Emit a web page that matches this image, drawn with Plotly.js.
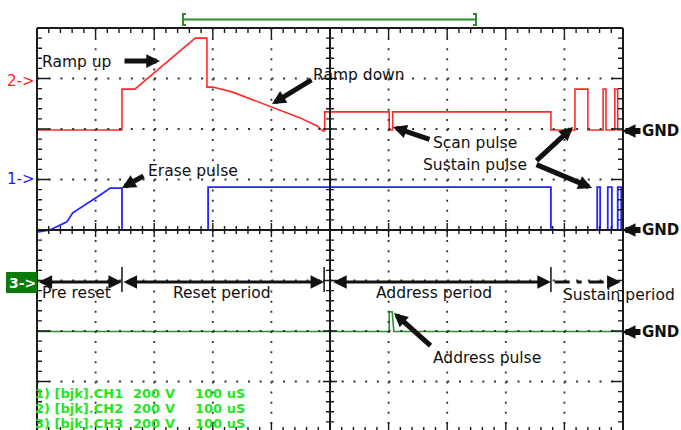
<!DOCTYPE html>
<html><head><meta charset="utf-8">
<script src="https://cdn.plot.ly/plotly-3.0.1.min.js"></script>
<style>html,body{margin:0;padding:0;background:#fff;}#chart{width:681px;height:430px;}</style>
</head><body><div id="chart"></div>
<script>
// ---- Data (time in uS, 100 uS/div; level in screen divisions, 200 V/div) ----
const ch2Time  = [0,145,145,167,270,290,290,300,334,401,449,478,488,491,491,601,601,607,607,877,877,918,918,940,940,966,966,971,971,986,986,991,991,1000];
const ch2Level = [5.98,5.98,6.79,6.79,7.80,7.80,6.83,6.83,6.73,6.44,6.22,6.06,5.96,5.96,6.34,6.34,5.98,5.98,6.34,6.34,5.98,5.98,6.79,6.79,5.98,5.98,6.79,6.79,5.98,5.98,6.79,6.79,5.98,5.98];
const ch1Time  = [0,22,51,61,102,125,145,145,292,292,877,877,956,956,961,961,974,974,981,981,991,991,997,997,1000];
const ch1Level = [3.96,4.0,4.16,4.34,4.65,4.83,4.83,4.0,4.0,4.85,4.85,4.0,4.0,4.85,4.85,4.0,4.0,4.85,4.85,4.0,4.0,4.85,4.85,4.0,4.0];
const ch3Time  = [0,601,601,606,609,1000];
const ch3Level = [1.99,1.99,2.38,2.38,1.99,1.99];

const periodNames  = ["Pre reset","Reset period","Address period","Sustain period"];
const periodStart  = [0,145,501,880];
const periodEnd    = [145,490,877,996];
const channelTags  = ["1) [bjk].CH1","2) [bjk].CH2","3) [bjk].CH3"];
const voltsPerDiv  = ["200","200","200"];
const voltUnit     = ["V","V","V"];
const timePerDiv   = ["100 uS","100 uS","100 uS"];
const markerLabels = ["2->","1->","3->"];

// ---- geometry helpers (pixel -> paper) ----
const L=37, T=28, W=586, H=402, DX=58.6, DY=50.5;
const PX = p => (p-L)/W;
const PY = p => 1-(p-T)/H;
const tpx = t => L + t/1000*W;

const shapes = [];
const ann = [];
const INK = '#111';

// dotted grid
for (let k=1;k<=7;k++){ if(k===4) continue; const y=T+k*DY;
  shapes.push({type:'line',xref:'paper',yref:'paper',x0:PX(L),x1:PX(623),y0:PY(y),y1:PY(y),line:{color:'#333',width:1.8,dash:'2px,9.72px'}}); }
for (let k=1;k<=9;k++){ if(k===5) continue; const x=L+k*DX;
  shapes.push({type:'line',xref:'paper',yref:'paper',x0:PX(x),x1:PX(x),y0:PY(T),y1:PY(432),line:{color:'#333',width:1.8,dash:'2px,8.1px'}}); }

// borders and centre axes
const solid = (x0,y0,x1,y1,w,c)=>shapes.push({type:'line',xref:'paper',yref:'paper',x0:PX(x0),x1:PX(x1),y0:PY(y0),y1:PY(y1),line:{color:c||'#1a1a1a',width:w||2}});
solid(L,T,L,432); solid(L,T,623,T); solid(623,T,623,432); solid(L,432,623,432);
solid(330,T,330,432); solid(L,230,623,230);

// ticks
let d='';
const seg=(x1,y1,x2,y2)=>{ d+=`M${PX(x1)},${PY(y1)}L${PX(x2)},${PY(y2)}`; };
for (let i=0;i<=50;i++){ const x=L+i*DX/5, maj=i%5===0;
  seg(x,T,x,T+(maj?10:5)); seg(x,432,x,432-(maj?10:5));
  const c=maj?7:4; seg(x,230-c,x,230+c); }
for (let j=0;j<=40;j++){ const y=T+j*DY/5, maj=j%5===0;
  seg(L,y,L+(maj?12:5),y); seg(623,y,623-(maj?12:5),y);
  const c=maj?7:4; seg(330-c,y,330+c,y); }
shapes.push({type:'path',xref:'paper',yref:'paper',path:d,line:{color:'#1a1a1a',width:1.4}});

// top green bracket
shapes.push({type:'path',xref:'paper',yref:'paper',line:{color:'#2a8c2a',width:2},
  path:`M${PX(186)},${PY(14)}L${PX(183)},${PY(14)}L${PX(183)},${PY(25)}L${PX(186)},${PY(25)}M${PX(183)},${PY(19.5)}L${PX(476)},${PY(19.5)}M${PX(473)},${PY(14)}L${PX(476)},${PY(14)}L${PX(476)},${PY(25)}L${PX(473)},${PY(25)}`});

// 3-> box
shapes.push({type:'rect',xref:'paper',yref:'paper',x0:PX(6),x1:PX(37),y0:PY(293),y1:PY(272),fillcolor:'#0a7a0a',line:{width:0}});

// period separators
[periodEnd[0], periodEnd[1], periodEnd[2]].forEach(t=>solid(tpx(t),267,tpx(t),292,1.5,'#111'));

// helpers for annotations
const label=(text,x,y,o={})=>ann.push(Object.assign({xref:'paper',yref:'paper',x:PX(x-2),y:PY(y),xanchor:'left',yanchor:'middle',
  text:text,showarrow:false,font:{family:'DejaVu Sans',size:15.5,color:INK}},o));
const arrow=(tx,ty,hx,hy,w,s,side)=>ann.push({xref:'paper',yref:'paper',x:PX(hx),y:PY(hy),axref:'pixel',ayref:'pixel',
  ax:tx-hx,ay:ty-hy,text:'',showarrow:true,arrowhead:2,startarrowhead:2,arrowsize:s,startarrowsize:s,arrowwidth:w,
  arrowcolor:INK,arrowside:side||'end'});

// channel markers
label(markerLabels[0],7,80.5,{font:{family:'DejaVu Sans',size:15,color:'#ff1a1a'}});
label(markerLabels[1],7,179,{font:{family:'DejaVu Sans',size:15,color:'#1a1aff'}});
label(markerLabels[2],9,282.5,{font:{family:'DejaVu Sans',size:14,color:'#ffffff',weight:'bold'}});

// callouts
label('Ramp up',42,62);           arrow(123,61,160,61,5,0.55);
label('Ramp down',313,75);        arrow(313,79,272,104,5,0.55);
label('Erase pulse',148,171);     arrow(145,175,122,188,5,0.55);
label('Scan pulse',433,143);      arrow(431,140,393,127,5,0.55);
label('Sustain pulse',423,165);   arrow(535,162,573,127,5,0.55); arrow(535,164,592,188,5,0.55);
label('Address pulse',433,358);   arrow(432,347,394,313,5,0.55);
[131,230,332].forEach(y=>{ label('GND',642,y,{font:{family:'DejaVu Sans',size:15,color:INK,weight:'bold'}}); arrow(642,y,622,y,6,0.45); });

// periods
const periodLabelX=[42,173,376,563], periodLabelY=[293,293,293,295];
periodNames.forEach((n,i)=>label(n,periodLabelX[i],periodLabelY[i]));
for (let i=0;i<3;i++){ const a=tpx(periodStart[i])+(i===2?1:0), b=tpx(periodEnd[i]);
  arrow(a,282,b,282,3.2,0.85,'end+start'); }
// sustain dashed arrow
const s0=tpx(periodStart[3])+2, s1=tpx(periodEnd[3]);
shapes.push({type:'line',xref:'paper',yref:'paper',x0:PX(s0),x1:PX(s1-13),y0:PY(282),y1:PY(282),line:{color:INK,width:3.2,dash:'15px,7px,5px,7px'}});
arrow(s1-14,282,s1,282,3.2,0.85);

// scope settings text
const colX=[35,133,165,195], rowY=[393.5,408.5,423.5];
for (let r=0;r<3;r++){
  [channelTags[r],voltsPerDiv[r],voltUnit[r],timePerDiv[r]].forEach((t,c)=>
    label(t,colX[c],rowY[r],{font:{family:'DejaVu Sans',size:13,color:'#22e622',weight:'bold'}}));
}

const traces=[
  {x:ch2Time,y:ch2Level,type:'scatter',mode:'lines',line:{color:'#ff2a2a',width:1.6},hoverinfo:'skip'},
  {x:ch1Time,y:ch1Level,type:'scatter',mode:'lines',line:{color:'#2424ff',width:1.8},hoverinfo:'skip'},
  {x:ch3Time,y:ch3Level,type:'scatter',mode:'lines',line:{color:'#2d8f2d',width:1.6},hoverinfo:'skip'}
];
const layout={width:681,height:430,margin:{l:L,r:681-623,t:T,b:0,pad:0},showlegend:false,
  paper_bgcolor:'#fff',plot_bgcolor:'#fff',
  xaxis:{range:[0,1000],visible:false,fixedrange:true},
  yaxis:{range:[8-H/DY,8],visible:false,fixedrange:true},
  shapes:shapes,annotations:ann};
Plotly.newPlot('chart',traces,layout,{staticPlot:true,displayModeBar:false});
</script></body></html>
